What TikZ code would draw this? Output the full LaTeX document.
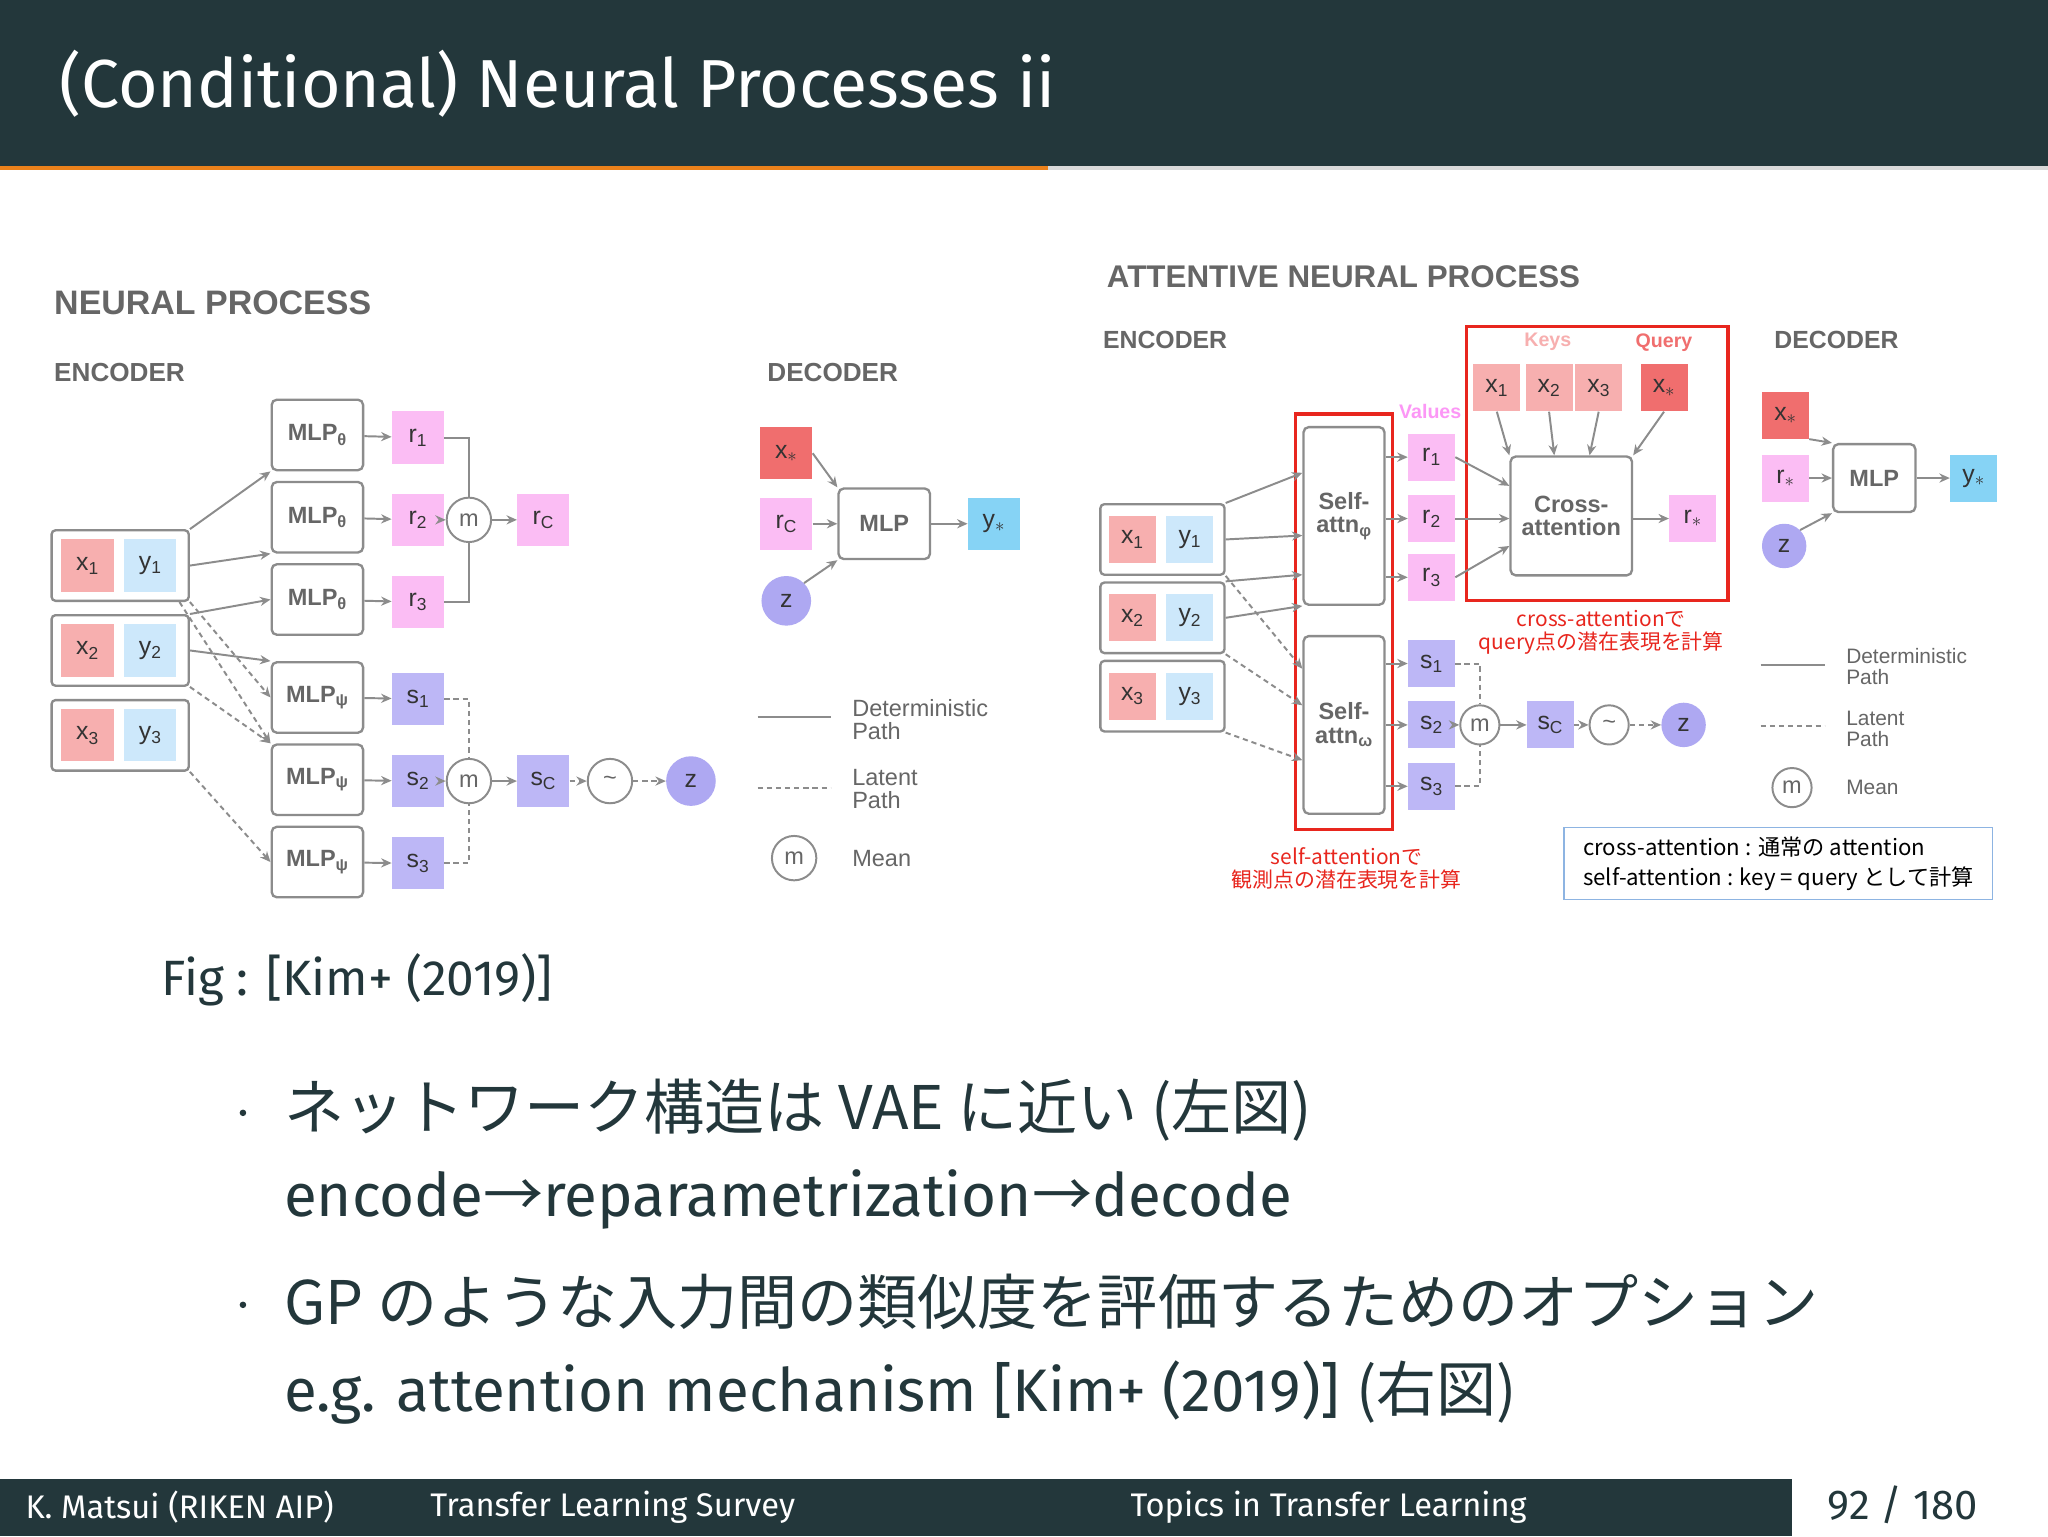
\documentclass[tikz,border=0pt]{standalone}
\usepackage{fontspec}
\setmainfont{Fira Sans}
\newfontfamily\dia{Liberation Sans}
\newfontfamily\jp{Noto Sans CJK JP}
\usetikzlibrary{arrows.meta}
\definecolor{slide}{HTML}{23373B}
\definecolor{orng}{HTML}{EB811B}
\definecolor{dgray}{HTML}{666666}
\definecolor{bgray}{HTML}{8C8C8C}
\definecolor{xcol}{HTML}{F7AFAF}
\definecolor{xstar}{HTML}{F06E6E}
\definecolor{ycol}{HTML}{CDE8FB}
\definecolor{ystar}{HTML}{86D3F5}
\definecolor{rcol}{HTML}{FBBDF4}
\definecolor{scol}{HTML}{BDB7F6}
\definecolor{zcol}{HTML}{AEA8F2}
\definecolor{anred}{HTML}{E8261E}
\definecolor{boxblue}{HTML}{8DB4E2}
\tikzset{
  dtxt/.style={font=\dia\fontsize{#1}{#1}\selectfont, text=dgray},
  hd/.style={font=\dia\bfseries\fontsize{#1}{#1}\selectfont, text=dgray, anchor=west},
  cell/.style={minimum width=#1, minimum height=#1, inner sep=0, font=\dia\fontsize{19}{19}\selectfont, text=black!80},
  pair/.style={draw=bgray, line width=1.8, rounded corners=3, minimum width=#1, minimum height=54, inner sep=0},
  mlp/.style={draw=bgray, line width=1.8, rounded corners=4, minimum width=70, minimum height=54, inner sep=0, font=\dia\bfseries\fontsize{18}{18}\selectfont, text=dgray},
  circ/.style={circle, draw=bgray, line width=1.5, minimum size=#1, inner sep=0, font=\dia\fontsize{18}{18}\selectfont, text=dgray},
  zc/.style={circle, fill=zcol, minimum size=#1, inner sep=0, font=\dia\fontsize{19}{19}\selectfont, text=black!80},
  ar/.style={-{Stealth[length=8,width=7]}, draw=bgray, line width=1.5},
  ln/.style={draw=bgray, line width=1.5},
  dar/.style={ar, dash pattern=on 4 off 3},
  dln/.style={ln, dash pattern=on 4 off 3},
  redt/.style={font=\jp\fontsize{16}{18}\selectfont, text=anred, align=center},
  body/.style={anchor=west, text=slide, font=\fontsize{46}{46}\selectfont},
  foot/.style={anchor=west, text=white, font=\fontsize{25}{25}\selectfont},
  dot/.style={circle, fill=slide, inner sep=0, minimum size=5}
}
\begin{document}
\begin{tikzpicture}[x=1pt,y=-1pt]
\useasboundingbox (0,0) rectangle (1568,1176);
\fill[white] (0,0) rectangle (1568,1176);
% header
\fill[slide] (0,0) rectangle (1568,128);
\fill[black!15] (0,127) rectangle (1568,130);
\fill[orng] (0,127) rectangle (802,130);
\node[anchor=west, text=white, font=\fontsize{52}{52}\selectfont] (title) at (42,64) {(Conditional) Neural Processes ii};
% footer
\fill[slide] (0,1132) rectangle (1372,1176);
\node[foot] (f1) at (16,1154) {K. Matsui (RIKEN AIP)};
\node[foot] (f2) at (326,1154) {Transfer Learning Survey};
\node[foot] (f3) at (862,1154) {Topics in Transfer Learning};
\node[anchor=west, text=slide, font=\fontsize{32}{32}\selectfont] (f4) at (1396,1152) {92 / 180};

% ===== left: neural process
\node[hd=26] (np) at (38,232) {NEURAL PROCESS};
\node[hd=20] (enc) at (38,285) {ENCODER};
\node[hd=20] (dec) at (584,285) {DECODER};
\foreach \i/\y in {1/433,2/498,3/563}{
  \node[pair=105] (p\i) at (92,\y) {};
  \node[cell=40, fill=xcol] (px\i) at (67,\y) {x\textsubscript{\i}};
  \node[cell=40, fill=ycol] (py\i) at (115,\y) {y\textsubscript{\i}};
}
\foreach \i/\y in {1/333,2/396,3/459}{
  \node[mlp] (mt\i) at (243,\y) {MLP\textsubscript{θ}};
  \node[cell=40, fill=rcol] (r\i) at (320,\y+2) {r\textsubscript{\i}};
  \draw[ar] (mt\i) -- (r\i);
}
\foreach \i/\y in {1/534,2/597,3/660}{
  \node[mlp] (mp\i) at (243,\y) {MLP\textsubscript{ψ}};
  \node[cell=40, fill=scol] (s\i) at (320,\y+1) {s\textsubscript{\i}};
  \draw[ar] (mp\i) -- (s\i);
}
\draw[ar] (p1.north east) -- (mt1.south west);
\draw[ar] (p1.east) -- (mt2.south west);
\draw[ar] (p2.north east) -- (mt3.west);
\draw[ar] (p2.east) -- (mp1.north west);
\draw[dar] (p1.south east) -- (mp1.west);
\draw[dar] (p2.south east) -- (mp2.north west);
\draw[dar] (p3.south east) -- (mp3.west);
\draw[dar] (p1.south east) ++(-8,0) -- (mp2.north west);
\node[circ=34] (m1) at (359,398) {m};
\node[cell=40, fill=rcol] (rc) at (416,398) {r\textsubscript{C}};
\draw[ln] (r1.east) -| (m1.north);
\draw[ln] (r3.east) -| (m1.south);
\draw[ar] (r2) -- (m1);
\draw[ar] (m1) -- (rc);
\node[circ=34] (m2) at (359,598) {m};
\node[cell=40, fill=scol] (sc) at (416,598) {s\textsubscript{C}};
\node[circ=34] (t1) at (467,598) {\textasciitilde};
\node[zc=38] (z1) at (529,598) {z};
\draw[dln] (s1.east) -| (m2.north);
\draw[dln] (s3.east) -| (m2.south);
\draw[dar] (s2) -- (m2);
\draw[ar] (m2) -- (sc);
\draw[dar] (sc) -- (t1);
\draw[dar] (t1) -- (z1);
% decoder
\node[cell=40, fill=xstar] (xs1) at (602,347) {x$_*$};
\node[cell=40, fill=rcol] (rc2) at (602,401) {r\textsubscript{C}};
\node[zc=38] (z2) at (602,460) {z};
\node[mlp] (md1) at (677,401) {MLP};
\node[cell=40, fill=ystar] (ys1) at (761,401) {y$_*$};
\draw[ar] (xs1.east) -- (md1.north west);
\draw[ar] (rc2) -- (md1);
\draw[ar] (z2.north east) -- (md1.south west);
\draw[ar] (md1) -- (ys1);
\coordinate (la1) at (580,549); \coordinate (lb1) at (636,549);
\draw[ln] (la1) -- (lb1);
\node[dtxt=18, anchor=west, align=left] (lt1) at (649,551) {Deterministic\\Path};
\coordinate (la2) at (580,603); \coordinate (lb2) at (636,603);
\draw[dln] (la2) -- (lb2);
\node[dtxt=18, anchor=west, align=left] (lt2) at (649,604) {Latent\\Path};
\node[circ=34] (lm1) at (608,657) {m};
\node[dtxt=18, anchor=west] (lt3) at (649,657) {Mean};

\node[anchor=west, text=slide, font=\fontsize{38}{38}\selectfont] (cap) at (120,750) {Fig : [Kim+ (2019)]};

% ===== right: attentive neural process
\node[hd=24] (anp) at (844,212) {ATTENTIVE NEURAL PROCESS};
\node[hd=19] (enc2) at (841,260) {ENCODER};
\node[hd=19] (dec2) at (1355,260) {DECODER};
\foreach \i/\y in {1/413,2/473,3/533}{
  \node[pair=95] (q\i) at (890,\y) {};
  \node[cell=36, fill=xcol] (qx\i) at (867,\y) {x\textsubscript{\i}};
  \node[cell=36, fill=ycol] (qy\i) at (911,\y) {y\textsubscript{\i}};
}
\node[mlp, minimum width=62, minimum height=136, align=center] (sa1) at (1029,395) {Self-\\attn\textsubscript{φ}};
\node[mlp, minimum width=62, minimum height=136, align=center] (sa2) at (1029,555) {Self-\\attn\textsubscript{ω}};
\draw[anred, line width=2.5] (992,317) rectangle (1066,635);
\draw[ar] (q1.north east) -- (sa1.west |- 0,362);
\draw[ar] (q1.east) -- (sa1.west |- 0,410);
\draw[ar] (q2.north east) -- (sa1.west |- 0,440);
\draw[ar] (q2.east) -- (sa1.south west);
\draw[dar] (q1.south east) -- (sa2.west |- 0,512);
\draw[dar] (q2.south east) -- (sa2.west |- 0,540);
\draw[dar] (q3.south east) -- (sa2.west |- 0,582);
\node[font=\dia\bfseries\fontsize{15}{15}\selectfont, text=rcol!80!magenta] (val) at (1095,315) {Values};
\foreach \i/\y in {1/350,2/397,3/442}{
  \node[cell=36, fill=rcol] (ar\i) at (1096,\y) {r\textsubscript{\i}};
  \draw[ar] (sa1.east |- ar\i) -- (ar\i);
}
\foreach \i/\y in {1/508,2/555,3/602}{
  \node[cell=36, fill=scol] (as\i) at (1096,\y) {s\textsubscript{\i}};
  \draw[ar] (sa2.east |- as\i) -- (as\i);
}
\draw[anred, line width=2.5] (1123,250) rectangle (1323,460);
\node[font=\dia\bfseries\fontsize{15}{15}\selectfont, text=xcol] (keys) at (1185,262) {Keys};
\node[font=\dia\bfseries\fontsize{15}{15}\selectfont, text=xstar] (qry) at (1274,262) {Query};
\node[cell=36, fill=xcol] (kx1) at (1146,297) {x\textsubscript{1}};
\node[cell=36, fill=xcol] (kx2) at (1186,297) {x\textsubscript{2}};
\node[cell=36, fill=xcol] (kx3) at (1224,297) {x\textsubscript{3}};
\node[cell=36, fill=xstar] (kxs) at (1274,297) {x$_*$};
\node[mlp, minimum width=93, minimum height=91, align=center] (ca) at (1203,395) {Cross-\\attention};
\node[cell=36, fill=rcol] (rs1) at (1296,397) {r$_*$};
\draw[ar] (kx1.south) -- (ca.north west);
\draw[ar] (kx2.south) -- (ca.north -| 1190,0);
\draw[ar] (kx3.south) -- (ca.north -| 1217,0);
\draw[ar] (kxs.south) -- (ca.north east);
\draw[ar] (ar1.east) -- (ca.west |- 0,372);
\draw[ar] (ar2) -- (ca.west |- ar2);
\draw[ar] (ar3.east) -- (ca.west |- 0,418);
\draw[ar] (ca.east |- rs1) -- (rs1);
\node[redt] (rt1) at (1226,484) {cross-attentionで\\query点の潜在表現を計算};
\node[circ=30] (m3) at (1133,555) {m};
\node[cell=36, fill=scol] (sc2) at (1187,555) {s\textsubscript{C}};
\node[circ=30] (t2) at (1232,555) {\textasciitilde};
\node[zc=34] (z3) at (1289,555) {z};
\draw[dln] (as1.east) -| (m3.north);
\draw[dln] (as3.east) -| (m3.south);
\draw[dar] (as2) -- (m3);
\draw[ar] (m3) -- (sc2);
\draw[dar] (sc2) -- (t2);
\draw[dar] (t2) -- (z3);
\node[redt] (rt2) at (1031,665) {self-attentionで\\観測点の潜在表現を計算};
% decoder
\node[cell=36, fill=xstar] (xs2) at (1367,318) {x$_*$};
\node[cell=36, fill=rcol] (rs2) at (1367,366) {r$_*$};
\node[zc=34] (z4) at (1366,418) {z};
\node[mlp, minimum width=63, minimum height=52] (md2) at (1435,366) {MLP};
\node[cell=36, fill=ystar] (ys2) at (1511,366) {y$_*$};
\draw[ar] (xs2.south east) -- (md2.north west);
\draw[ar] (rs2) -- (md2);
\draw[ar] (z4.north east) -- (md2.south west);
\draw[ar] (md2) -- (ys2);
\coordinate (la3) at (1348,509); \coordinate (lb3) at (1397,509);
\draw[ln] (la3) -- (lb3);
\node[dtxt=16, anchor=west, align=left] (lt4) at (1410,510) {Deterministic\\Path};
\coordinate (la4) at (1348,556); \coordinate (lb4) at (1397,556);
\draw[dln] (la4) -- (lb4);
\node[dtxt=16, anchor=west, align=left] (lt5) at (1410,558) {Latent\\Path};
\node[circ=30] (lm2) at (1372,603) {m};
\node[dtxt=16, anchor=west] (lt6) at (1410,603) {Mean};
\node[draw=boxblue, line width=1.2, anchor=north west, minimum width=328, minimum height=55, inner sep=4, align=left, font=\jp\fontsize{17}{23}\selectfont] (note) at (1197,633)
  {cross-attention : 通常の attention\\self-attention : key = query として計算};

% bullets
\node[dot] (d1) at (186,852) {};
\node[body, font=\jp\fontsize{46}{46}\selectfont] (b1) at (214,850) {ネットワーク構造は VAE に近い (左図)};
\node[body] (b2) at (214,918) {encode{\jp →}reparametrization{\jp →}decode};
\node[dot] (d2) at (186,999) {};
\node[body, font=\jp\fontsize{46}{46}\selectfont] (b3) at (214,997) {GP のような入力間の類似度を評価するためのオプション};
\node[body] (b4) at (214,1066) {e.g. attention mechanism [Kim+ (2019)] {\jp (右図)}};
\end{tikzpicture}
\end{document}
